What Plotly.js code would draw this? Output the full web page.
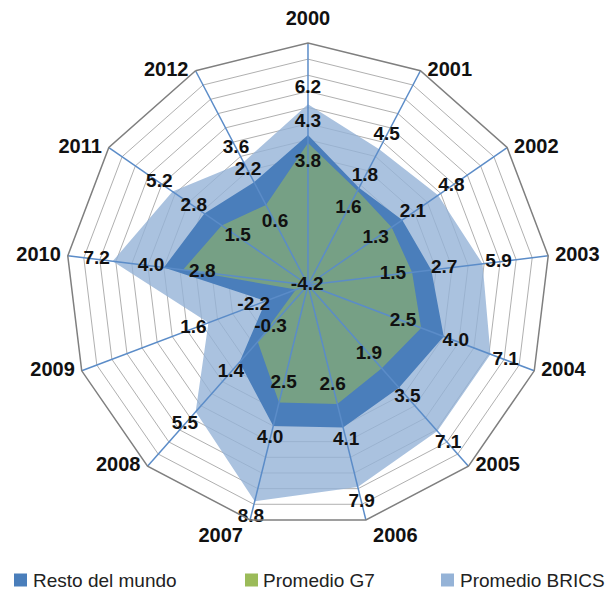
<!DOCTYPE html>
<html><head><meta charset="utf-8">
<script src="https://cdn.plot.ly/plotly-3.0.1.min.js"></script>
<style>html,body{margin:0;padding:0;background:#fff}#chart{width:610px;height:594px}</style>
</head><body><div id="chart"></div>
<script>
// ---- data ----
const years = ['2000','2001','2002','2003','2004','2005','2006','2007','2008','2009','2010','2011','2012'];
const seriesNames = ['Resto del mundo', 'Promedio G7', 'Promedio BRICS'];
const resto = [4.3, 1.8, 2.1, 2.7, 4.0, 3.5, 4.1, 4.0, 1.4, -2.2, 4.0, 2.8, 2.2];
const g7    = [3.8, 1.6, 1.3, 1.5, 2.5, 1.9, 2.6, 2.5, -0.3, -4.2, 2.8, 1.5, 0.6];
const brics = [6.2, 4.5, 4.8, 5.9, 7.1, 7.1, 7.9, 8.8, 5.5, 1.6, 7.2, 5.2, 3.6];

// ---- style ----
// value axis runs from AXMIN (centre) to AXMAX (outer ring); plotted radius = value - AXMIN
const AXMIN = -5, AXMAX = 10;
const rad = v => v - AXMIN;
const FONT = 'Liberation Sans, Arial, sans-serif';
const legendColors = ['#4a7ebb', '#9bbb59', '#95b3d7'];
const fills = ['#4a7ebb', 'rgba(155,187,89,0.55)', 'rgba(149,179,215,0.8)'];
const fmt = v => v.toFixed(1);

function fillTrace(vals, name, fill) {
  return {type: 'scatterpolar', r: vals.map(rad), theta: years, mode: 'lines', fill: 'toself',
    fillcolor: fill, line: {width: 0, color: fill}, name: name, showlegend: false, hoverinfo: 'skip'};
}
function labelTrace(vals, off) {
  return {type: 'scatterpolar', r: vals.map(v => Math.max(0.05, rad(v) + off)), theta: years,
    mode: 'text', text: vals.map(fmt), textposition: 'middle center', cliponaxis: false,
    textfont: {family: FONT, size: 19, color: '#111', weight: 'bold'}, showlegend: false, hoverinfo: 'skip'};
}
const spokes = {type: 'scatterpolar', mode: 'lines',
  r: years.flatMap(() => [0, rad(AXMAX), null]), theta: years.flatMap(y => [y, y, y]),
  line: {color: '#5b8cc8', width: 1.5}, showlegend: false, hoverinfo: 'skip', connectgaps: false};

// category labels placed just outside each outer vertex (Excel-like placement)
const catV = years.map((y, i) => {
  const c = Math.cos(2 * Math.PI * i / years.length);
  return c > 0.95 ? 'top' : (c < -0.8 ? 'bottom' : 'middle');
});
const catPos = years.map((y, i) => {
  const s = Math.sin(2 * Math.PI * i / years.length);
  return catV[i] + ' ' + (s > 0.1 ? 'right' : (s < -0.1 ? 'left' : 'center'));
});
const catLabels = {type: 'scatterpolar', mode: 'markers+text',
  r: years.map(() => rad(AXMAX) - 0.02), theta: years, text: years, textposition: catPos,
  marker: {size: catV.map(v => v === 'top' ? 20 : 10), opacity: 0}, cliponaxis: false,
  textfont: {family: FONT, size: 20, color: '#111', weight: 'bold'}, showlegend: false, hoverinfo: 'skip'};

const data = [
  fillTrace(brics, seriesNames[2], fills[2]),
  fillTrace(resto, seriesNames[0], fills[0]),
  fillTrace(g7, seriesNames[1], fills[1]),
  spokes,
  labelTrace(brics, 1.0),
  labelTrace(resto, 0.8),
  labelTrace(g7, -1.2),
  catLabels
];

// legend row (squares + text)
const legX = [14, 245, 441], legTextX = [32, 262, 459];
const W = 610, H = 594, legY = 580, sq = 13;
const shapes = seriesNames.map((n, i) => ({type: 'rect', xref: 'paper', yref: 'paper',
  x0: legX[i] / W, x1: (legX[i] + sq) / W, y0: (H - legY - sq / 2) / H, y1: (H - legY + sq / 2) / H,
  fillcolor: legendColors[i], line: {width: 0}}));
const annotations = seriesNames.map((n, i) => ({xref: 'paper', yref: 'paper',
  x: legTextX[i] / W, y: (H - legY) / H, xanchor: 'left', yanchor: 'middle', borderpad: 0,
  text: n, showarrow: false, font: {family: FONT, size: 19, color: '#222'}}));

const layout = {
  width: W, height: H, margin: {l: 0, r: 0, t: 0, b: 0},
  paper_bgcolor: '#fff', showlegend: false,
  polar: {
    domain: {x: [0.1082, 0.9016], y: [0.1128, 0.9276]},
    bgcolor: '#fff', gridshape: 'linear',
    radialaxis: {range: [0, rad(AXMAX)], dtick: 1, tick0: 0, showticklabels: false, ticks: '',
      showline: false, gridcolor: '#b0b0b0', gridwidth: 1},
    angularaxis: {type: 'category', categoryarray: years, direction: 'clockwise', rotation: 90,
      showgrid: false, showline: true, linecolor: '#7f7f7f', linewidth: 1.5,
      ticks: '', showticklabels: false}
  },
  shapes: shapes, annotations: annotations
};
Plotly.newPlot('chart', data, layout, {displayModeBar: false, staticPlot: true});
</script></body></html>
